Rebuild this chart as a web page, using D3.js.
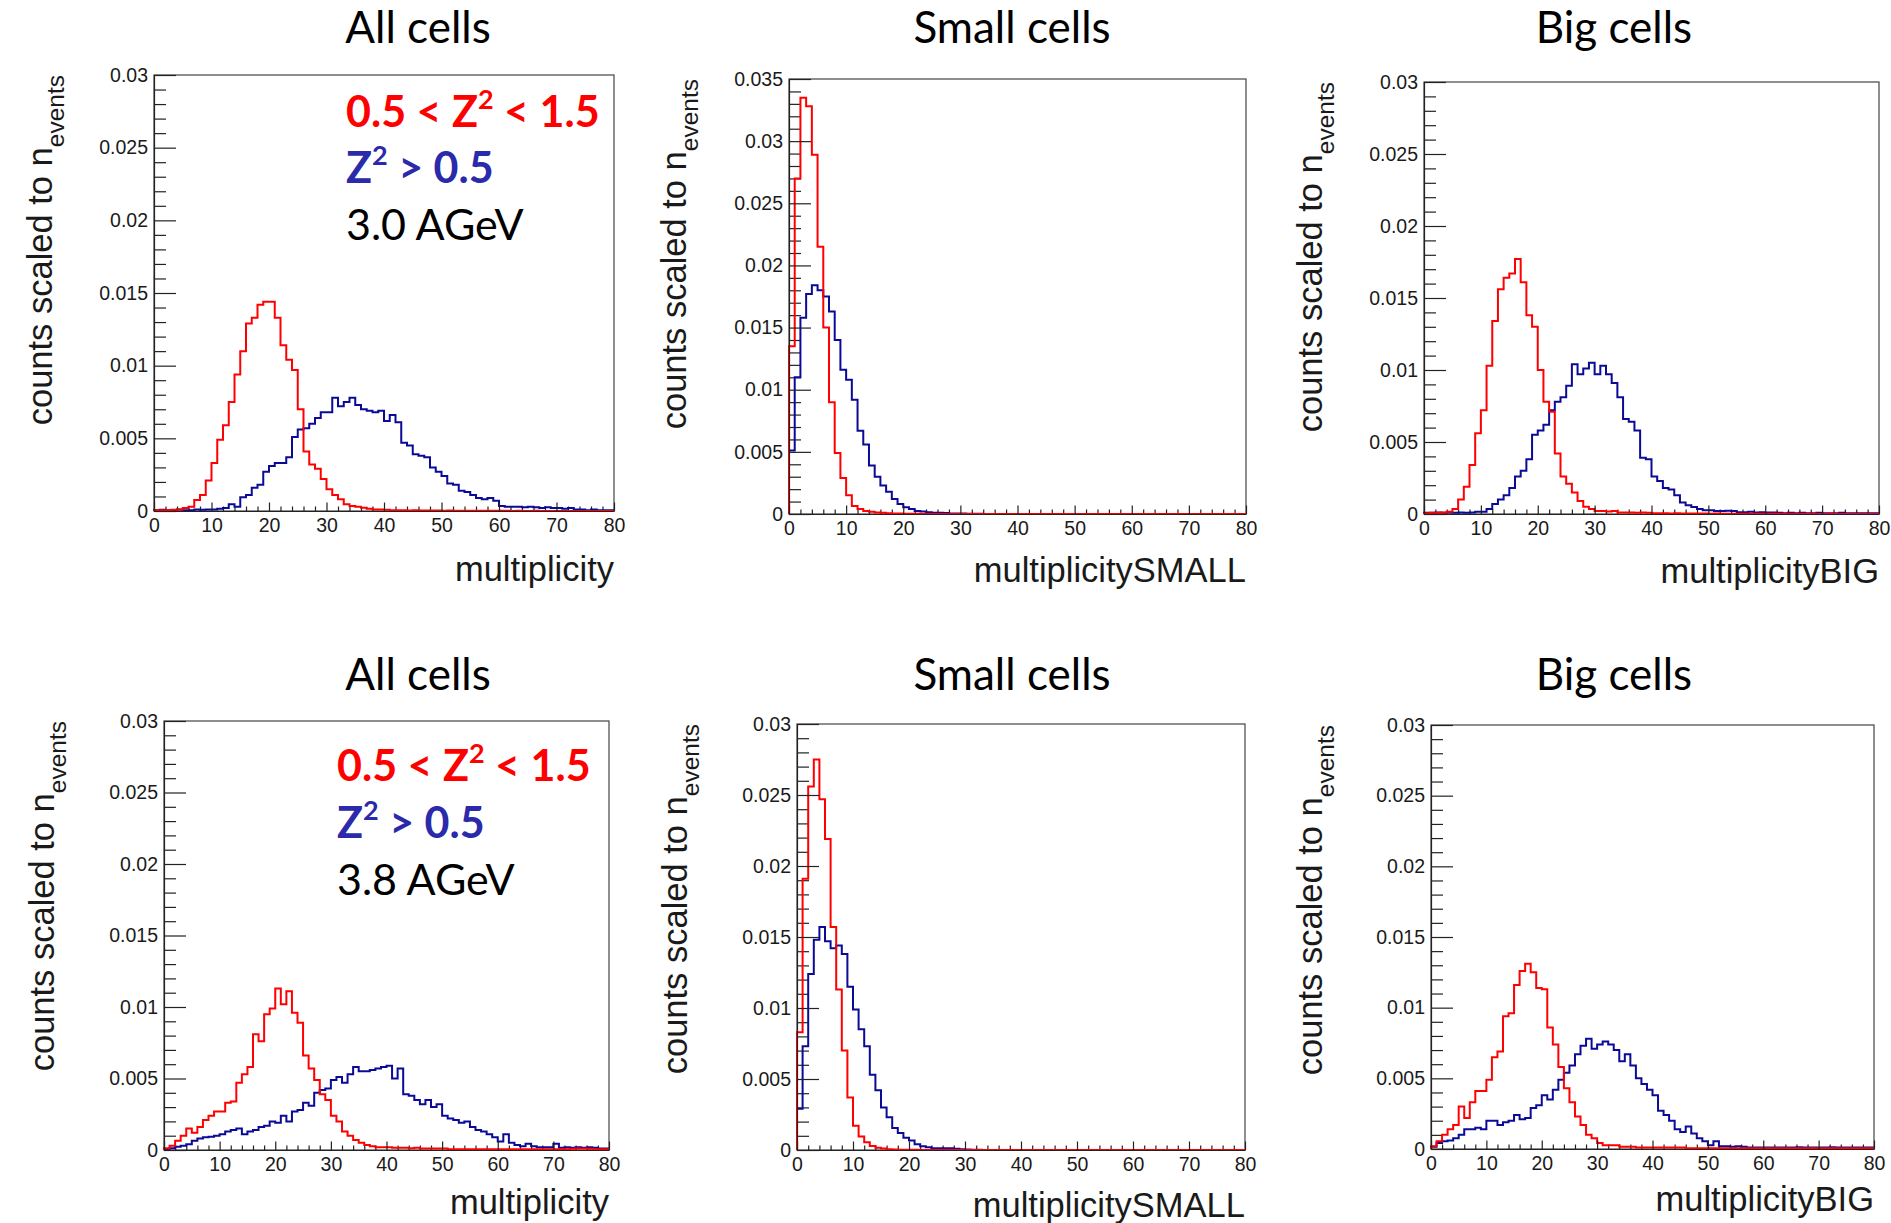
<!DOCTYPE html>
<html>
<head>
<meta charset="utf-8">
<script src="https://cdn.jsdelivr.net/npm/d3@7/dist/d3.min.js"></script>
<style>
    body { margin: 0; background: #fff; }
    svg { display: block; }
    .axis text { font-family: "Liberation Sans", Arial, sans-serif; font-size: 19.5px; fill: #1a1a1a; }
    .axis line, .axis path { stroke: #222; stroke-width: 1.2; }
    .frame { fill: none; stroke: #444; stroke-width: 1.2; }
    .title { font-family: Lato, sans-serif; font-size: 44px; fill: #000; }
    .axis-title { font-family: "Liberation Sans", Arial, sans-serif; font-size: 34.5px; fill: #1a1a1a; }
    .legend { font-family: Lato, sans-serif; font-size: 43px; }
</style>
</head>
<body>
<svg id="chart" width="1891" height="1223"></svg>
<script>
// ---- data -------------------------------------------------------------
const xTickLabels = ['0', '10', '20', '30', '40', '50', '60', '70', '80'];
const yTickLabels30 = ['0', '0.005', '0.01', '0.015', '0.02', '0.025', '0.03'];
const yTickLabels35 = ['0', '0.005', '0.01', '0.015', '0.02', '0.025', '0.03', '0.035'];
const panelTitles = ['All cells', 'Small cells', 'Big cells'];
const xAxisTitles = ['multiplicity', 'multiplicitySMALL', 'multiplicityBIG'];
const energies = ['3.0 AGeV', '3.8 AGeV'];

// 80 bins, width 1, from 0 to 80
const allRed30 = [
    0.00005, 0.00005, 0.00005, 0.00008, 0.0001, 0.0002, 0.0003, 0.00075, 0.0011, 0.0021,
    0.0033, 0.0049, 0.0059, 0.0075, 0.0094, 0.011, 0.0129, 0.0133, 0.0142, 0.0144,
    0.0144, 0.0133, 0.0114, 0.0104, 0.0097, 0.007, 0.0041, 0.0032, 0.0029, 0.0022,
    0.0015, 0.0011, 0.0008, 0.00046, 0.00034, 0.0003, 0.00023, 0.00016, 0.0001, 0.0001,
    0.00008, 0.00005, 0.00005, 0.00005, 0.00004, 0.00005, 0.00003, 0.00004, 0.00003, 0.00003,
    0.00002, 0.00003, 0.00002, 0.00002, 0.00002, 0.00001, 0.00002, 0.00001, 0.00001, 0.00001,
    0.00001, 0.00001, 0, 0.00001, 0, 0, 0.00001, 0, 0, 0,
    0, 0, 0, 0, 0, 0, 0, 0, 0, 0
];
const allBlue30 = [
    0.00005, 0.00008, 0.00005, 0.00005, 0.0001, 0.00005, 0.00005, 0.0001, 0.00008, 0.0001,
    0.0001, 0.00016, 0.0002, 0.00046, 0.0003, 0.00095, 0.0011, 0.0016, 0.0018, 0.0027,
    0.0031, 0.0033, 0.0033, 0.0037, 0.0051, 0.0056, 0.0057, 0.006, 0.0064, 0.0068,
    0.0068, 0.0078, 0.0072, 0.0075, 0.0078, 0.0073, 0.007, 0.0069, 0.0068, 0.0069,
    0.0062, 0.0066, 0.0061, 0.0047, 0.0045, 0.0039, 0.0038, 0.0037, 0.003, 0.0027,
    0.0024, 0.0019, 0.0018, 0.0014, 0.0013, 0.0011, 0.0009, 0.0008, 0.0009, 0.0007,
    0.00035, 0.0003, 0.0003, 0.0003, 0.00025, 0.0003, 0.00025, 0.0002, 0.00025, 0.0002,
    0.0002, 0.00015, 0.0002, 0.0001, 0.0001, 0.00005, 0.0001, 0.00005, 0.00005, 0.00005
];
const smallRed30 = [
    0.0135, 0.027, 0.0335, 0.0328, 0.0289, 0.0215, 0.015, 0.009, 0.0049, 0.0029,
    0.0015, 0.00065, 0.0004, 0.00025, 0.00018, 0.00012, 0.0001, 0.00006, 0.00005, 0.00004,
    0.00003, 0.00002, 0.00002, 0, 0, 0, 0, 0, 0, 0,
    0, 0, 0, 0, 0, 0, 0, 0, 0, 0,
    0, 0, 0, 0, 0, 0, 0, 0, 0, 0,
    0, 0, 0, 0, 0, 0, 0, 0, 0, 0,
    0, 0, 0, 0, 0, 0, 0, 0, 0, 0,
    0, 0, 0, 0, 0, 0, 0, 0, 0, 0
];
const smallBlue30 = [
    0.0051, 0.011, 0.0158, 0.0177, 0.0184, 0.018, 0.0175, 0.0163, 0.014, 0.0116,
    0.0108, 0.0092, 0.0067, 0.0056, 0.0039, 0.003, 0.0023, 0.0018, 0.0012, 0.0008,
    0.00055, 0.0004, 0.00025, 0.0002, 0.00015, 0.0001, 0.0001, 0.00008, 0.00005, 0.00005,
    0.00004, 0.00003, 0.00002, 0.00002, 0.00001, 0.00001, 0.00001, 0, 0, 0,
    0, 0, 0, 0, 0, 0, 0, 0, 0, 0,
    0, 0, 0, 0, 0, 0, 0, 0, 0, 0,
    0, 0, 0, 0, 0, 0, 0, 0, 0, 0,
    0, 0, 0, 0, 0, 0, 0, 0, 0, 0
];
const bigRed30 = [
    0.00005, 0.00008, 0.00008, 0.0001, 0.00015, 0.00035, 0.001, 0.0019, 0.0034, 0.0056,
    0.0072, 0.0103, 0.0134, 0.0156, 0.0164, 0.0167, 0.0177, 0.0161, 0.0138, 0.013,
    0.01, 0.0078, 0.0071, 0.0042, 0.0026, 0.0021, 0.0015, 0.0009, 0.0005, 0.00035,
    0.0002, 0.0002, 0.00018, 0.0002, 0.0001, 0.0001, 0.0001, 0.00008, 0.0001, 0.00008,
    0.00005, 0.00005, 0.00005, 0.00004, 0.00005, 0.00004, 0.00003, 0.00004, 0.00003, 0.00003,
    0.00002, 0.00003, 0.00002, 0.00002, 0.00002, 0.00002, 0.00001, 0.00002, 0.00001, 0.00001,
    0.00001, 0.00001, 0.00001, 0.00001, 0.00001, 0, 0.00001, 0, 0.00001, 0,
    0, 0.00001, 0, 0, 0, 0, 0, 0, 0, 0
];
const bigBlue30 = [
    0.00008, 0.00008, 0.0001, 0.00008, 0.0001, 0.00008, 0.0001, 0.00008, 0.0001, 0.00015,
    0.00015, 0.00035, 0.0007, 0.001, 0.0013, 0.0018, 0.0026, 0.003, 0.0038, 0.0055,
    0.0058, 0.0062, 0.0072, 0.0078, 0.0081, 0.0089, 0.0104, 0.0097, 0.0101, 0.0105,
    0.0097, 0.0103, 0.0097, 0.0091, 0.0081, 0.0066, 0.0064, 0.0058, 0.0039, 0.0038,
    0.0026, 0.0023, 0.0018, 0.0017, 0.0013, 0.0008, 0.0006, 0.00048, 0.00035, 0.00026,
    0.00026, 0.0002, 0.0002, 0.00022, 0.0002, 0.00013, 0.00013, 0.00015, 0.0001, 0.00013,
    0.0001, 0.0001, 0.00008, 0.00005, 0.00008, 0.00005, 0.00008, 0.00005, 0.00005, 0.00008,
    0.00005, 0.00005, 0.00005, 0.00008, 0.00005, 0.00005, 0.00005, 0.00005, 0.00005, 0.00005
];
const allRed38 = [
    0.00012, 0.0003, 0.00065, 0.001, 0.0015, 0.0012, 0.0016, 0.0021, 0.0024, 0.0027,
    0.0027, 0.0033, 0.0034, 0.0047, 0.0053, 0.0058, 0.0081, 0.0076, 0.0095, 0.0099,
    0.0113, 0.0102, 0.0111, 0.0096, 0.0089, 0.0066, 0.0057, 0.0049, 0.0039, 0.0035,
    0.0024, 0.002, 0.0013, 0.001, 0.0007, 0.0005, 0.00035, 0.00027, 0.0002, 0.0002,
    0.0002, 0.00015, 0.00015, 0.00015, 0.00012, 0.00015, 0.0001, 0.0001, 0.0001, 0.0001,
    0.0001, 0.00005, 0.00005, 0.00005, 0.00005, 0.00005, 0.00005, 0.00005, 0.00005, 0.00005,
    0.00005, 0.00005, 0.00005, 0.00005, 0.00005, 0.00005, 0.00005, 0.00005, 0.00005, 0.00005,
    0.00005, 0.00005, 0.00005, 0.00008, 0.0001, 0.0001, 0.00008, 0.00005, 0.00005, 0.00005
];
const allBlue38 = [
    0.00005, 0.00012, 0.00023, 0.0003, 0.0004, 0.00065, 0.0008, 0.0009, 0.00093, 0.001,
    0.0011, 0.0013, 0.0014, 0.0015, 0.0011, 0.0013, 0.0014, 0.0016, 0.0017, 0.002,
    0.0019, 0.0024, 0.002, 0.0027, 0.0028, 0.0033, 0.0031, 0.004, 0.0042, 0.0043,
    0.0049, 0.0051, 0.0047, 0.0053, 0.0058, 0.0055, 0.0055, 0.0056, 0.0057, 0.0058,
    0.0059, 0.005, 0.0057, 0.0039, 0.0038, 0.0035, 0.0032, 0.0035, 0.003, 0.0032,
    0.0024, 0.0022, 0.0021, 0.0019, 0.002, 0.0016, 0.0014, 0.0013, 0.0011, 0.0009,
    0.0006, 0.0011, 0.0005, 0.00035, 0.00027, 0.00043, 0.00027, 0.0002, 0.0002, 0.0002,
    0.00043, 0.00015, 0.0002, 0.00015, 0.0002, 0.00015, 0.0002, 0.00015, 0.0001, 0.0001
];
const smallRed38 = [
    0.0083, 0.0191, 0.0256, 0.0275, 0.0247, 0.0219, 0.0157, 0.0113, 0.007, 0.0037,
    0.0017, 0.00095, 0.00055, 0.00028, 0.00015, 0.0001, 0.00006, 0.00004, 0.00002, 0.00002,
    0.00001, 0.00001, 0, 0, 0, 0, 0, 0, 0, 0,
    0, 0, 0, 0, 0, 0, 0, 0, 0, 0,
    0, 0, 0, 0, 0, 0, 0, 0, 0, 0,
    0, 0, 0, 0, 0, 0, 0, 0, 0, 0,
    0, 0, 0, 0, 0, 0, 0, 0, 0, 0,
    0, 0, 0, 0, 0, 0, 0, 0, 0, 0
];
const smallBlue38 = [
    0.0029, 0.0073, 0.0124, 0.0148, 0.0157, 0.0147, 0.0142, 0.0144, 0.0138, 0.0115,
    0.0099, 0.0085, 0.0073, 0.0053, 0.0042, 0.003, 0.0023, 0.00155, 0.0012, 0.00086,
    0.00067, 0.0004, 0.00027, 0.00019, 0.00013, 0.00013, 0.00013, 0.00013, 0.00008, 0.00005,
    0.00003, 0.00002, 0.00001, 0, 0, 0, 0, 0, 0, 0,
    0, 0, 0, 0, 0, 0, 0, 0, 0, 0,
    0, 0, 0, 0, 0, 0, 0, 0, 0, 0,
    0, 0, 0, 0, 0, 0, 0, 0, 0, 0,
    0, 0, 0, 0, 0, 0, 0, 0, 0, 0
];
const bigRed38 = [
    0.0002, 0.00054, 0.001, 0.0014, 0.0017, 0.003, 0.0022, 0.0033, 0.0041, 0.0041,
    0.0049, 0.0065, 0.0069, 0.0094, 0.0096, 0.0116, 0.0126, 0.0131, 0.0125, 0.0114,
    0.0113, 0.0086, 0.0074, 0.0058, 0.0043, 0.0033, 0.0023, 0.0017, 0.001, 0.00076,
    0.00043, 0.00027, 0.00027, 0.00027, 0.00016, 0.00016, 0.00016, 0.0001, 0.0001, 0.0001,
    0.0001, 0.0001, 0.0001, 0.0001, 0.0001, 0.0001, 0.00005, 0.00005, 0.00005, 0.00005,
    0.00005, 0.00005, 0.00005, 0.00005, 0.00005, 0.00005, 0.00005, 0.00005, 0.00005, 0.00005,
    0.00005, 0.00005, 0.00005, 0.00005, 0.00005, 0.00005, 0.00005, 0.00005, 0.00005, 0.00005,
    0.00005, 0.00005, 0.00005, 0.00005, 0.00005, 0.00005, 0.00005, 0.00005, 0.00005, 0.00005
];
const bigBlue38 = [
    0.00016, 0.00043, 0.00054, 0.0006, 0.00076, 0.001, 0.0014, 0.0014, 0.0015, 0.0014,
    0.002, 0.002, 0.0017, 0.0019, 0.002, 0.0024, 0.0021, 0.0022, 0.0029, 0.0031,
    0.0038, 0.0035, 0.0042, 0.0049, 0.0054, 0.0059, 0.0067, 0.0073, 0.0078, 0.0071,
    0.0074, 0.0076, 0.0074, 0.007, 0.0062, 0.0067, 0.0059, 0.005, 0.0046, 0.0042,
    0.0038, 0.0027, 0.0024, 0.002, 0.0014, 0.0012, 0.0016, 0.0011, 0.00076, 0.00054,
    0.00027, 0.00054, 0.0002, 0.0002, 0.00016, 0.0002, 0.00016, 0.0001, 0.0001, 0.0001,
    0.0001, 0.0001, 0.0001, 0.0001, 0.0001, 0.0001, 0.00013, 0.0001, 0.0001, 0.0001,
    0.0001, 0.0001, 0.00013, 0.0001, 0.0001, 0.0001, 0.0001, 0.0001, 0.0001, 0.0001
];

// ---- layout (pixel geometry of each pad) ------------------------------
const pads = [
    {l: 154, r: 614, t: 75, b: 511, yMax: 0.03, yLabels: yTickLabels30, red: allRed30, blue: allBlue30,
     title: panelTitles[0], titleX: 418, titleY: 43, xTitle: xAxisTitles[0], xTitleY: 581, yTitleX: 52,
     legend: {x: 346, y: [127, 183, 240], energy: energies[0]}},
    {l: 789, r: 1246, t: 79, b: 514, yMax: 0.035, yLabels: yTickLabels35, red: smallRed30, blue: smallBlue30,
     title: panelTitles[1], titleX: 1012, titleY: 43, xTitle: xAxisTitles[1], xTitleY: 582, yTitleX: 686},
    {l: 1424, r: 1879, t: 82, b: 514, yMax: 0.03, yLabels: yTickLabels30, red: bigRed30, blue: bigBlue30,
     title: panelTitles[2], titleX: 1614, titleY: 43, xTitle: xAxisTitles[2], xTitleY: 583, yTitleX: 1322},
    {l: 164, r: 609, t: 721, b: 1150, yMax: 0.03, yLabels: yTickLabels30, red: allRed38, blue: allBlue38,
     title: panelTitles[0], titleX: 418, titleY: 690, xTitle: xAxisTitles[0], xTitleY: 1214, yTitleX: 54,
     legend: {x: 337, y: [781, 838, 895], energy: energies[1]}},
    {l: 797, r: 1245, t: 724, b: 1150, yMax: 0.03, yLabels: yTickLabels30, red: smallRed38, blue: smallBlue38,
     title: panelTitles[1], titleX: 1012, titleY: 690, xTitle: xAxisTitles[1], xTitleY: 1217, yTitleX: 687},
    {l: 1431, r: 1874, t: 725, b: 1149, yMax: 0.03, yLabels: yTickLabels30, red: bigRed38, blue: bigBlue38,
     title: panelTitles[2], titleX: 1614, titleY: 690, xTitle: xAxisTitles[2], xTitleY: 1211, yTitleX: 1322}
];

const RED = '#ff0000';
const NAVY = '#0a0a96';
const LEGEND_BLUE = '#2a2aaa';

class PadHelper {

    /**
     * Histogram outline points: up from zero at the first edge,
     * step along each bin, back down at the last edge
     */
    static stepPoints(values) {
        const pts = [{x: 0, y: 0}];
        values.forEach((v, i) => pts.push({x: i, y: v}));
        pts.push({x: values.length, y: values[values.length - 1]});
        pts.push({x: values.length, y: 0});
        return pts;
    }

    static drawPad(svg, p) {
        const x = d3.scaleLinear().domain([0, 80]).range([p.l, p.r]);
        const y = d3.scaleLinear().domain([0, p.yMax]).range([p.b, p.t]);
        const g = svg.append('g');

        g.append('rect').attr('class', 'frame')
            .attr('x', p.l).attr('y', p.t)
            .attr('width', p.r - p.l).attr('height', p.b - p.t);

        // minor ticks first
        const yMinor = d3.range(0, Math.round(p.yMax * 1000) + 1)
            .filter(k => k % 5 !== 0).map(k => k / 1000);
        g.append('g').attr('class', 'axis')
            .attr('transform', `translate(${p.l},0)`)
            .call(d3.axisLeft(y).tickValues(yMinor).tickSize(-12).tickFormat(''))
            .call(s => s.select('.domain').remove());

        const xMinor = d3.range(0, 81, 2).filter(k => k % 10 !== 0);
        g.append('g').attr('class', 'axis')
            .attr('transform', `translate(0,${p.b})`)
            .call(d3.axisBottom(x).tickValues(xMinor).tickSize(-4.5).tickFormat(''))
            .call(s => s.select('.domain').remove());

        // histograms
        const line = d3.line()
            .x(d => x(d.x))
            .y(d => y(d.y))
            .curve(d3.curveStepAfter);

        [[p.blue, NAVY], [p.red, RED]].forEach(([vals, col]) => {
            g.append('path')
                .attr('d', line(PadHelper.stepPoints(vals)))
                .attr('fill', 'none')
                .attr('stroke', col)
                .attr('stroke-width', 2)
                .attr('stroke-linejoin', 'miter');
        });

        // major ticks + labels
        const yMajor = p.yLabels.map((_, i) => i * 0.005);
        g.append('g').attr('class', 'axis')
            .attr('transform', `translate(${p.l},0)`)
            .call(d3.axisLeft(y).tickValues(yMajor).tickSize(-22).tickSizeOuter(0).tickPadding(6)
                .tickFormat((d, i) => p.yLabels[i]));

        const xMajor = xTickLabels.map(Number);
        g.append('g').attr('class', 'axis')
            .attr('transform', `translate(0,${p.b})`)
            .call(d3.axisBottom(x).tickValues(xMajor).tickSize(-8.5).tickSizeOuter(0).tickPadding(7)
                .tickFormat((d, i) => xTickLabels[i]));

        // titles
        g.append('text').attr('class', 'title')
            .attr('x', p.titleX).attr('y', p.titleY)
            .attr('text-anchor', 'middle')
            .text(p.title);

        g.append('text').attr('class', 'axis-title')
            .attr('x', p.r).attr('y', p.xTitleY)
            .attr('text-anchor', 'end')
            .text(p.xTitle);

        const yt = g.append('text').attr('class', 'axis-title')
            .attr('transform', `translate(${p.yTitleX},${p.t}) rotate(-90)`)
            .attr('text-anchor', 'end');
        yt.append('tspan').text('counts scaled to n');
        yt.append('tspan').attr('dy', 11.5).attr('font-size', 24.5).text('events');

        if (p.legend) PadHelper.drawLegend(g, p.legend);
    }

    static drawLegend(g, lg) {
        const t1 = g.append('text').attr('class', 'legend')
            .attr('x', lg.x).attr('y', lg.y[0])
            .attr('fill', RED).attr('font-weight', 700);
        t1.append('tspan').text('0.5 < Z');
        t1.append('tspan').attr('dy', -18).attr('font-size', 27).text('2');
        t1.append('tspan').attr('dy', 18).text(' < 1.5');

        const t2 = g.append('text').attr('class', 'legend')
            .attr('x', lg.x).attr('y', lg.y[1])
            .attr('fill', LEGEND_BLUE).attr('font-weight', 700);
        t2.append('tspan').text('Z');
        t2.append('tspan').attr('dy', -18).attr('font-size', 27).text('2');
        t2.append('tspan').attr('dy', 18).text(' > 0.5');

        g.append('text').attr('class', 'legend')
            .attr('x', lg.x).attr('y', lg.y[2])
            .attr('fill', '#000')
            .text(lg.energy);
    }
}

const svg = d3.select('#chart');
pads.forEach(p => PadHelper.drawPad(svg, p));
</script>
</body>
</html>
